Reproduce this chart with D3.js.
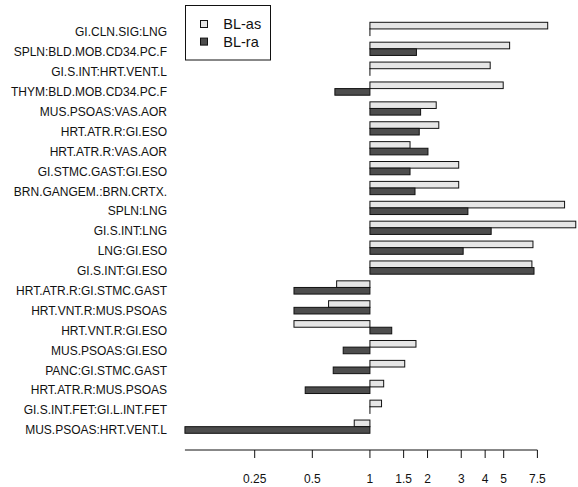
<!DOCTYPE html>
<html>
<head>
<meta charset="utf-8">
<script src="https://cdn.jsdelivr.net/npm/d3@7"></script>
<style>
  body { margin: 0; background: #fff; }
  svg { font-family: "Liberation Sans", Arial, Helvetica, sans-serif; }
</style>
</head>
<body>
<svg width="578" height="487"></svg>
<script>
const categories = [
  "GI.CLN.SIG:LNG", "SPLN:BLD.MOB.CD34.PC.F", "GI.S.INT:HRT.VENT.L", "THYM:BLD.MOB.CD34.PC.F",
  "MUS.PSOAS:VAS.AOR", "HRT.ATR.R:GI.ESO", "HRT.ATR.R:VAS.AOR", "GI.STMC.GAST:GI.ESO",
  "BRN.GANGEM.:BRN.CRTX.", "SPLN:LNG", "GI.S.INT:LNG", "LNG:GI.ESO", "GI.S.INT:GI.ESO",
  "HRT.ATR.R:GI.STMC.GAST", "HRT.VNT.R:MUS.PSOAS", "HRT.VNT.R:GI.ESO", "MUS.PSOAS:GI.ESO",
  "PANC:GI.STMC.GAST", "HRT.ATR.R:MUS.PSOAS", "GI.S.INT.FET:GI.L.INT.FET", "MUS.PSOAS:HRT.VENT.L"
];
const blAs = [8.49, 5.37, 4.25, 4.97, 2.22, 2.29, 1.62, 2.91, 2.91, 10.4, 11.9, 7.11, 7.02,
  0.670, 0.608, 0.401, 1.74, 1.52, 1.18, 1.15, 0.828];
const blRa = [1, 1.75, 1, 0.656, 1.84, 1.81, 2.01, 1.62, 1.72, 3.25, 4.30, 3.07, 7.20,
  0.401, 0.401, 1.30, 0.725, 0.643, 0.459, 1, 0.108];
const seriesNames = ["BL-as", "BL-ra"];
const seriesColors = ["#E6E6E6", "#4D4D4D"];
const tickValues = [0.25, 0.5, 1, 1.5, 2, 3, 4, 5, 7.5];

const svg = d3.select("svg");

const x = d3.scaleLog().domain([0.25, 7.5]).range([254.7, 537.4]);
const y = d3.scaleBand().domain(categories).range([22.3, 433.3]).paddingInner(1 / 3).paddingOuter(0);
const ySub = d3.scaleBand().domain([0, 1]).range([0, y.bandwidth()]);

const rows = categories.map((c, i) => ({ cat: c, vals: [blAs[i], blRa[i]] }));

// bars start at 1 on the log scale
const g = svg.append("g");
rows.forEach(r => {
  r.vals.forEach((v, j) => {
    const x0 = Math.min(x(1), x(v)), x1 = Math.max(x(1), x(v));
    g.append("rect")
      .attr("x", x0)
      .attr("y", y(r.cat) + ySub(j))
      .attr("width", Math.max(x1 - x0, 0.01))
      .attr("height", ySub.bandwidth())
      .attr("fill", seriesColors[j])
      .attr("stroke", "#111")
      .attr("stroke-width", 1);
  });
});

// category labels
svg.append("g").selectAll("text")
  .data(categories)
  .join("text")
  .attr("x", 167)
  .attr("y", d => y(d) + y.bandwidth() / 2 + 7.5)
  .attr("text-anchor", "end")
  .attr("font-size", "12px")
  .attr("fill", "#111")
  .text(d => d);

// x axis
const axisY = 450;
const ax = svg.append("g").attr("transform", `translate(0,${axisY})`);
ax.append("line")
  .attr("x1", x(d3.min(blAs.concat(blRa)))).attr("x2", x(7.5))
  .attr("stroke", "#111");
ax.selectAll("line.tick")
  .data(tickValues)
  .join("line")
  .attr("class", "tick")
  .attr("x1", d => x(d)).attr("x2", d => x(d))
  .attr("y1", 0).attr("y2", 8)
  .attr("stroke", "#111");
ax.selectAll("text")
  .data(tickValues)
  .join("text")
  .attr("x", d => x(d))
  .attr("y", 33)
  .attr("text-anchor", "middle")
  .attr("font-size", "12px")
  .attr("fill", "#111")
  .text(d => d);

// legend
const lg = svg.append("g");
lg.append("rect")
  .attr("x", 185.5).attr("y", 5.5).attr("width", 85).attr("height", 54.5)
  .attr("fill", "#fff").attr("stroke", "#111");
seriesNames.forEach((s, i) => {
  lg.append("rect")
    .attr("x", 200.5).attr("y", 20.5 + i * 17.6)
    .attr("width", 7).attr("height", 7)
    .attr("fill", seriesColors[i]).attr("stroke", "#111");
  lg.append("text")
    .attr("x", 223.3).attr("y", 29.3 + i * 17.6)
    .attr("font-size", "14.5px")
    .attr("fill", "#111")
    .text(s);
});
</script>
</body>
</html>
